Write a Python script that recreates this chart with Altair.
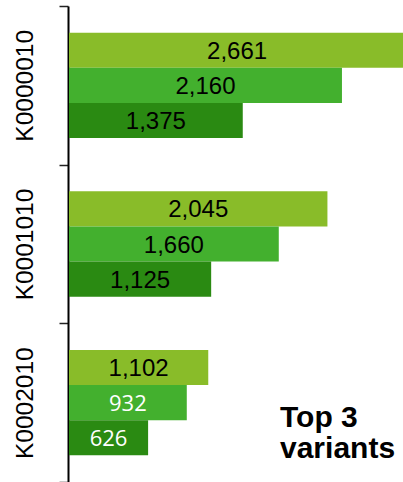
import altair as alt
import pandas as pd

groups = ["K0000010", "K0001010", "K0002010"]
rank1 = [2661, 2045, 1102]
rank2 = [2160, 1660, 932]
rank3 = [1375, 1125, 626]
ranks = ["1", "2", "3"]
colors = ["#89BC29", "#43B02E", "#2A8A12"]
note_lines = ["Top 3", "variants"]

rows = []
for g, a, b, c in zip(groups, rank1, rank2, rank3):
    for r, v in zip(ranks, [a, b, c]):
        rows.append({"group": g, "rank": r, "value": v})
df = pd.DataFrame(rows)

FONT = "Liberation Sans"
XDOM = [0, 2643]

y_enc = alt.Y(
    "group:N",
    sort=groups,
    scale=alt.Scale(paddingInner=0, paddingOuter=0),
    axis=alt.Axis(
        title=None,
        labelAngle=-90,
        labelFont=FONT,
        labelFontSize=24.5,
        labelColor="black",
        labelPadding=22,
        tickBand="extent",
        tickSize=9,
        tickWidth=1.5,
        tickColor="#222222",
        domainColor="black",
        domainWidth=2,
        offset=1,
        grid=False,
    ),
)
yoff = alt.YOffset("rank:N", sort=ranks, scale=alt.Scale(paddingInner=0, paddingOuter=0.76))
x_scale = alt.Scale(domain=XDOM, nice=False, zero=True)

base = alt.Chart(df).encode(y=y_enc, yOffset=yoff)

bars = base.mark_bar(clip=True).encode(
    x=alt.X("value:Q", scale=x_scale, axis=None),
    color=alt.Color("rank:N", scale=alt.Scale(domain=ranks, range=colors), legend=None),
)

lab_black = base.transform_filter("datum.value >= 1000").transform_calculate(
    half="datum.value / 2"
).mark_text(font=FONT, fontSize=24, color="black", baseline="middle", dy=1.5).encode(
    x=alt.X("half:Q", scale=x_scale, axis=None),
    text=alt.Text("value:Q", format=","),
)

lab_white = base.transform_filter("datum.value < 1000").transform_calculate(
    half="datum.value / 2"
).mark_text(font="Open Sans", fontSize=22, color="white", baseline="middle", dy=1).encode(
    x=alt.X("half:Q", scale=x_scale, axis=None),
    text=alt.Text("value:Q", format=","),
)

note = alt.Chart(pd.DataFrame({"t": [0]})).mark_text(
    text=note_lines,
    font=FONT,
    fontSize=30,
    fontWeight="bold",
    color="black",
    align="left",
    baseline="alphabetic",
    lineHeight=31,
).encode(x=alt.value(211), y=alt.value(421))

chart = (
    alt.layer(bars, lab_black, lab_white, note)
    .properties(
        width=334,
        height=476,
        padding={"left": 69, "top": 6, "right": 0, "bottom": 0},
        autosize=alt.AutoSizeParams(type="none"),
        background="white",
    )
    .configure_view(stroke=None)
)

chart.save("out.html", embed_options={"renderer": "svg", "actions": False})
